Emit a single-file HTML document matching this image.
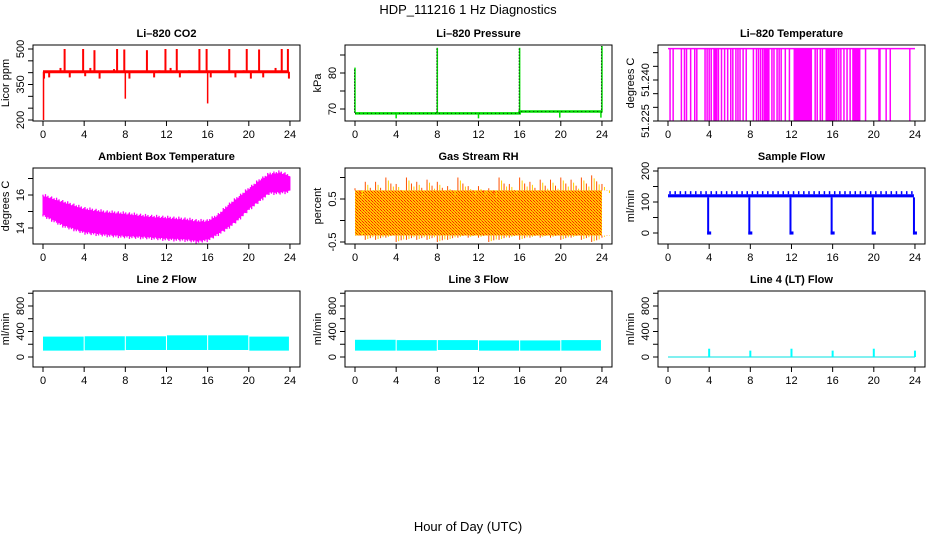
<!DOCTYPE html>
<html><head><meta charset="utf-8"><style>
body{margin:0;background:#fff;}
svg{display:block;font-family:"Liberation Sans",sans-serif;}
</style></head><body>
<svg id="c" width="936" height="540" xmlns="http://www.w3.org/2000/svg">
<defs>
<pattern id="rhpat" width="3" height="3" patternUnits="userSpaceOnUse">
<rect width="3" height="3" fill="#ffc800"/><rect width="1" height="1" fill="#ff2000"/><rect x="1" y="1" width="1" height="1" fill="#ff6000"/><rect x="2" y="2" width="1" height="1" fill="#ff2000"/>
</pattern>
</defs>
<text x="468" y="14" text-anchor="middle" font-size="13">HDP_111216  1 Hz Diagnostics</text>
<text x="468" y="531" text-anchor="middle" font-size="13">Hour of Day (UTC)</text>
</svg>
<script>
// ---- data ----
const xTicks=[0,4,8,12,16,20,24];
// CO2
const co2Base=404;
const co2SpikeHours=[2.1,3.9,5.0,7.2,7.9,10.1,11.9,13.0,15.2,15.9,18.1,19.8,21.0,23.2,23.8];
const co2SpikeVals=[500,500,495,500,498,495,500,500,500,500,500,500,498,500,500];
const co2SmallHours=[0.1,0.6,1.7,2.6,3.5,4.1,4.6,5.5,6.2,6.9,8.4,9.2,10.8,11.3,12.4,13.3,14.2,14.7,16.3,17.2,17.8,18.7,19.5,20.2,21.4,22.6,23.9];
const co2SmallVals=[375,380,420,380,400,385,420,375,408,415,375,408,380,410,420,380,410,400,380,405,408,380,410,375,380,420,375];
const co2DropHours=[0.05,8.0,16.0];
const co2DropVals=[200,290,270];
// Pressure
const presHours=[0,16,16,24];
const presVals=[68.8,68.8,69.3,69.3];
const presSpikeHours=[0.0,8.0,16.0,24.0];
const presSpikeVals=[81.5,87,87,87.5];
const presDipHours=[4.0,12.0,19.9,23.9];
const presDipVals=[67.4,67.4,67.6,67.6];
// Li-820 temperature
const tempTop=51.2515, tempBottom=51.2252;
const tempDropHours=[0.2,0.5,1.3,1.6,1.8,2.2,2.6,2.8,3.6,3.8,4.0,4.2,4.6,4.9,5.2,5.5,5.8,6.1,6.3,6.6,6.8,7.0,7.3,7.6,8.3,8.6,8.8,9.0,9.2,9.4,9.6,9.8,10.1,10.3,10.6,10.8,11.0,11.4,11.8,14.3,14.5,14.8,15.0,15.5,15.7,16.4,16.6,16.8,17.1,17.4,17.7,18.2,18.4,18.6,19.2,20.5,20.6,21.2,21.6,23.5];
const tempDenseStart=[12.2,15.3,17.9,9.3,4.4];
const tempDenseEnd=[14.0,16.3,18.7,9.8,4.8];
// Ambient box temperature
const ambHours=[0,2,4,6,8,10,12,14,15,16,17,18,19,20,21,22,23,24];
const ambUpper=[15.9,15.5,15.1,14.9,14.8,14.65,14.55,14.45,14.35,14.35,14.7,15.3,15.8,16.3,16.8,17.2,17.3,17.1];
const ambLower=[14.85,14.2,13.8,13.65,13.55,13.5,13.4,13.35,13.25,13.35,13.7,14.1,14.6,15.2,15.7,16.2,16.2,16.3];
// Gas stream RH
const rhHours=[0,1,2,3,4,5,6,7,8,9,10,11,12,13,14,15,16,17,18,19,20,21,22,23,24];
const rhUpper=[0.75,0.9,0.9,1.0,0.85,1.0,0.9,0.95,0.9,0.8,1.0,0.8,0.8,0.75,1.0,0.85,1.0,0.9,0.95,0.95,1.0,0.95,1.0,1.05,0.85];
const rhLower=[-0.35,-0.45,-0.45,-0.4,-0.5,-0.45,-0.45,-0.45,-0.5,-0.45,-0.4,-0.4,-0.4,-0.5,-0.45,-0.4,-0.45,-0.4,-0.4,-0.4,-0.45,-0.4,-0.45,-0.5,-0.4];
// Sample flow
const sfLow=115, sfHigh=125, sfTick=135;
const sfDropHours=[4,8,12,16,20,24];
const sfDropVals=[-5,-5,-5,-5,-5,-5];
// Line flows
const l2Start=[0,4.05,8.05,12.05,16.05,20.05];
const l2End=[3.95,7.95,11.95,15.95,19.95,23.9];
const l2Upper=[320,325,325,340,340,320];
const l2Lower=[100,105,110,110,110,100];
const l3Start=[0,4.05,8.05,12.05,16.05,20.05];
const l3End=[3.95,7.95,11.95,15.95,19.95,23.9];
const l3Upper=[270,265,265,260,260,265];
const l3Lower=[100,100,110,100,100,100];
const l4Base=0;
const l4SpikeHours=[4,8,12,16,20,24];
const l4SpikeVals=[130,100,130,100,130,100];

// ---- layout ----
const S=document.getElementById('c');
const NS='http://www.w3.org/2000/svg';
const colL=[33,345,658], rowT=[45,168,291], PW=267, PH=76;
function mk(tag,attrs,parent){const e=document.createElementNS(NS,tag);for(const k in attrs)e.setAttribute(k,attrs[k]);(parent||S).appendChild(e);return e;}
function panel(col,row,title,ylab,v1,o1,v2,o2,yt,yl,name){
  const L=colL[col],T=rowT[row];
  const g=mk('g',{});
  
  
  const X=h=>L+10+h*10.29;
  const Y=v=>T+o1+(v-v1)*(o2-o1)/(v2-v1);
  const t=mk('text',{x:L+PW/2,y:T-8,'text-anchor':'middle','font-size':11,'font-weight':'bold'},g);t.textContent=title;
  
  
  const yl2=mk('text',{x:0,y:0,'text-anchor':'middle','font-size':11,transform:`translate(${L-24},${T+PH/2}) rotate(-90)`},g);yl2.textContent=ylab;
  
  
  const plot=mk('g',{},g);
  
  
  const cp='cp'+name;
  const clip=mk('clipPath',{id:cp},g);mk('rect',{x:L,y:T,width:PW,height:PH},clip);
  plot.setAttribute('clip-path',`url(#${cp})`);
  mk('rect',{x:L,y:T,width:PW,height:PH,fill:'none',stroke:'#000','stroke-width':1},g);
  xTicks.forEach(h=>{mk('line',{x1:X(h),x2:X(h),y1:T+PH,y2:T+PH+5,stroke:'#000'},g);
    const tx=mk('text',{x:X(h),y:T+PH+17,'text-anchor':'middle','font-size':11},g);tx.textContent=h;});
  yt.forEach(v=>{mk('line',{x1:L-5,x2:L,y1:Y(v),y2:Y(v),stroke:'#000'},g);});
  yl.forEach(v=>{const tx=mk('text',{x:0,y:0,'text-anchor':'middle','font-size':11,transform:`translate(${L-9},${Y(v)}) rotate(-90)`},g);tx.textContent=v;});
  return {X,Y,g:plot};
}
function vline(p,x,y1,y2,c,w){mk('line',{x1:x,x2:x,y1:y1,y2:y2,stroke:c,'stroke-width':w||1.5},p);}
function interp(hs,vs,h){for(let i=1;i<hs.length;i++){if(h<=hs[i]){const f=(h-hs[i-1])/(hs[i]-hs[i-1]);return vs[i-1]+f*(vs[i]-vs[i-1]);}}return vs[vs.length-1];}

// CO2
(function(){const P=panel(0,0,'Li\u2013820 CO2','Licor ppm',500,4,200,75,[200,250,300,350,400,450,500],[200,350,500],'co2');
 mk('line',{x1:P.X(0),x2:P.X(23.9),y1:P.Y(co2Base),y2:P.Y(co2Base),stroke:'#f00','stroke-width':3},P.g);
 co2SpikeHours.forEach((h,i)=>vline(P.g,P.X(h),P.Y(co2Base),P.Y(co2SpikeVals[i]),'#f00',2));
 co2SmallHours.forEach((h,i)=>vline(P.g,P.X(h),P.Y(co2Base),P.Y(co2SmallVals[i]),'#f00',2));
 co2DropHours.forEach((h,i)=>vline(P.g,P.X(h),P.Y(co2Base),P.Y(co2DropVals[i]),'#f00',1.5));
})();
// Pressure
(function(){const P=panel(1,0,'Li\u2013820 Pressure','kPa',70,64,80,28,[70,75,80,85],[70,80],'pressure');
 let d='';presHours.forEach((h,i)=>{d+=(i?'L':'M')+P.X(h)+' '+P.Y(presVals[i]);});
 mk('path',{d:d,fill:'none',stroke:'#00dd00','stroke-width':2.5},P.g);
 mk('path',{d:d,fill:'none',stroke:'#000','stroke-width':1,'stroke-dasharray':'1 3','stroke-opacity':0.7},P.g);
 presSpikeHours.forEach((h,i)=>{vline(P.g,P.X(h),P.Y(69),P.Y(presSpikeVals[i]),'#00dd00',1.5);
   mk('line',{x1:P.X(h)-0.5,x2:P.X(h)-0.5,y1:P.Y(69),y2:P.Y(presSpikeVals[i]),stroke:'#000','stroke-width':1,'stroke-dasharray':'1 2'},P.g);});
 presDipHours.forEach((h,i)=>vline(P.g,P.X(h),P.Y(69),P.Y(presDipVals[i]),'#00dd00',1.5));
})();
// Temperature
(function(){const P=panel(2,0,'Li\u2013820 Temperature','degrees C',51.24,35,51.225,76,[51.225,51.23,51.235,51.24,51.245,51.25],['51.225','51.240'],'li820-temp');
 mk('line',{x1:P.X(0),x2:P.X(24),y1:P.Y(tempTop),y2:P.Y(tempTop),stroke:'#ff00ff','stroke-width':1.5},P.g);
 tempDropHours.forEach(h=>vline(P.g,P.X(h),P.Y(tempTop),P.Y(tempBottom),'#ff00ff',1.5));
 tempDenseStart.forEach((s,i)=>mk('rect',{x:P.X(s),y:P.Y(tempTop),width:P.X(tempDenseEnd[i])-P.X(s),height:P.Y(tempBottom)-P.Y(tempTop),fill:'#ff00ff'},P.g));
})();
// Ambient
(function(){const P=panel(0,1,'Ambient Box Temperature','degrees C',16,27,14,60,[14,15,16,17],[14,16],'ambient-temp');
 let d='';ambHours.forEach((h,i)=>{d+=(i?'L':'M')+P.X(h)+' '+P.Y(ambUpper[i]);});
 for(let i=ambHours.length-1;i>=0;i--)d+='L'+P.X(ambHours[i])+' '+P.Y(ambLower[i]);
 mk('path',{d:d+'Z',fill:'#ff00ff',stroke:'#ff00ff','stroke-width':1},P.g);
 const jig=[0.12,0.03,0.2,0.07,0.15,0.0,0.1,0.18,0.05];
 let k=0;
 for(let h=0;h<=24;h+=0.12){const u=interp(ambHours,ambUpper,h),l=interp(ambHours,ambLower,h);
   vline(P.g,P.X(h),P.Y(u),P.Y(u+jig[k%9]),'#ff00ff',1.3);
   vline(P.g,P.X(h),P.Y(l),P.Y(l-jig[(k+4)%9]),'#ff00ff',1.3);k++;}
})();
// RH
(function(){const P=panel(1,1,'Gas Stream RH','percent',0.5,31,-0.5,74,[-0.5,0,0.5,1],['-0.5','0.5'],'gas-rh');
 let d='M'+P.X(0)+' '+P.Y(0.7)+'L'+P.X(24)+' '+P.Y(0.7)+'L'+P.X(24)+' '+P.Y(-0.35)+'L'+P.X(0)+' '+P.Y(-0.35)+'Z';
 mk('path',{d:d,fill:'url(#rhpat)'},P.g);
 rhHours.forEach((h,i)=>{for(let k=0;k<4;k++){const xx=P.X(h)+k*2.5;
   mk('line',{x1:xx,x2:xx,y1:P.Y(0.7),y2:P.Y(rhUpper[i]-k*0.07),stroke:k%2?'#ffd000':'#ff5000','stroke-width':1},P.g);
   mk('line',{x1:xx,x2:xx,y1:P.Y(-0.35),y2:P.Y(rhLower[i]+k*0.02),stroke:k%2?'#ffd000':'#ff5000','stroke-width':1},P.g);}});
})();
// Sample flow
(function(){const P=panel(2,1,'Sample Flow','ml/min',0,65,200,3,[0,50,100,150,200],[0,100,200],'sample-flow');
 mk('rect',{x:P.X(0),y:P.Y(sfHigh),width:P.X(23.9)-P.X(0),height:P.Y(sfLow)-P.Y(sfHigh),fill:'#0000ff'},P.g);
 for(let h=0.2;h<24;h+=0.5)vline(P.g,P.X(h),P.Y(sfHigh),P.Y(sfTick),'#0000ff',1.5);
 sfDropHours.forEach((h,i)=>{vline(P.g,P.X(h)-1,P.Y(sfLow),P.Y(sfDropVals[i]),'#0000ff',2);
   mk('rect',{x:P.X(h)-2,y:P.Y(5),width:4,height:P.Y(sfDropVals[i])-P.Y(5),fill:'#0000ff'},P.g);});
})();
// Line flows
function bands(P,st,en,up,lo){st.forEach((s,i)=>mk('rect',{x:P.X(s),y:P.Y(up[i]),width:P.X(en[i])-P.X(s),height:P.Y(lo[i])-P.Y(up[i]),fill:'#00ffff'},P.g));}
(function(){const P=panel(0,2,'Line 2 Flow','ml/min',0,66,800,15,[0,200,400,600,800,1000],[0,400,800],'line2-flow');
 bands(P,l2Start,l2End,l2Upper,l2Lower);})();
(function(){const P=panel(1,2,'Line 3 Flow','ml/min',0,66,800,15,[0,200,400,600,800,1000],[0,400,800],'line3-flow');
 bands(P,l3Start,l3End,l3Upper,l3Lower);})();
(function(){const P=panel(2,2,'Line 4 (LT) Flow','ml/min',0,66,800,15,[0,200,400,600,800,1000],[0,400,800],'line4-flow');
 mk('line',{x1:P.X(0),x2:P.X(24),y1:P.Y(l4Base),y2:P.Y(l4Base),stroke:'#00e0e0','stroke-width':1},P.g);
 l4SpikeHours.forEach((h,i)=>vline(P.g,P.X(h),P.Y(l4Base),P.Y(l4SpikeVals[i]),'#00ffff',2));})();
</script>
</body></html>
